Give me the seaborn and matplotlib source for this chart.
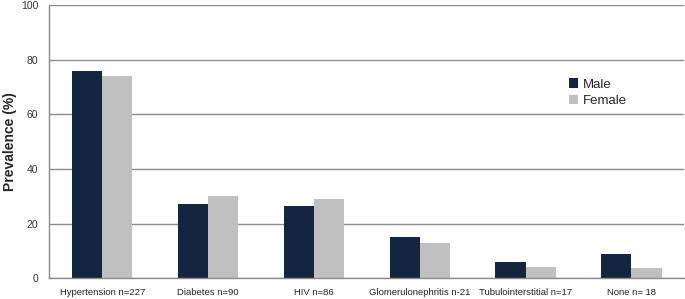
import numpy as np
import pandas as pd
import matplotlib.pyplot as plt
import seaborn as sns

# values
categories = ["Hypertension n=227", "Diabetes n=90", "HIV n=86",
              "Glomerulonephritis n-21", "Tubulointerstitial n=17", "None n= 18"]
male = [75.8, 27.0, 26.3, 15.1, 5.8, 8.8]
female = [74.0, 30.1, 29.0, 12.7, 4.1, 3.6]

df = pd.DataFrame({
    "Condition": categories * 2,
    "Sex": ["Male"] * len(categories) + ["Female"] * len(categories),
    "Prevalence": male + female,
})

sns.set_style("white")
plt.rcParams["font.family"] = ["Liberation Sans", "DejaVu Sans"]

fig, ax = plt.subplots(figsize=(6.85, 2.99), dpi=100)
sns.barplot(data=df, x="Condition", y="Prevalence", hue="Sex",
            palette={"Male": "#14253f", "Female": "#c0c0c0"},
            width=0.57, gap=0, saturation=1, linewidth=0, ax=ax)

ax.set_ylim(0, 100)
ax.set_yticks([0, 20, 40, 60, 80, 100])
ax.set_xlim(-0.5, len(categories) - 0.5)
ax.yaxis.grid(True, color="#8c8c8c", linewidth=1)
ax.set_axisbelow(True)
for s in ["top", "right"]:
    ax.spines[s].set_visible(False)
for s in ["left", "bottom"]:
    ax.spines[s].set_color("#8c8c8c")
    ax.spines[s].set_linewidth(1)

ax.set_xlabel("")
ax.set_ylabel("Prevalence (%)", fontsize=10, fontweight="bold", labelpad=3)
ax.tick_params(axis="x", length=0, labelsize=6.8, pad=7, labelcolor="#222222")
ax.tick_params(axis="y", length=3, labelsize=7.5, color="#8c8c8c",
               direction="out", width=1, labelcolor="#333333", pad=5)
ax.set_xticks(np.arange(0.5, len(categories) - 1, 1), minor=True)
ax.tick_params(axis="x", which="minor", length=3, color="#8c8c8c", direction="out")

ax.legend(title=None, frameon=False, fontsize=9.5, loc="center left",
          bbox_to_anchor=(0.8, 0.68), handlelength=0.7, handleheight=0.7,
          handletextpad=0.3, labelspacing=0.3)

plt.subplots_adjust(left=0.072, right=0.999, top=0.982, bottom=0.07)
plt.savefig("out.png", dpi=100)
